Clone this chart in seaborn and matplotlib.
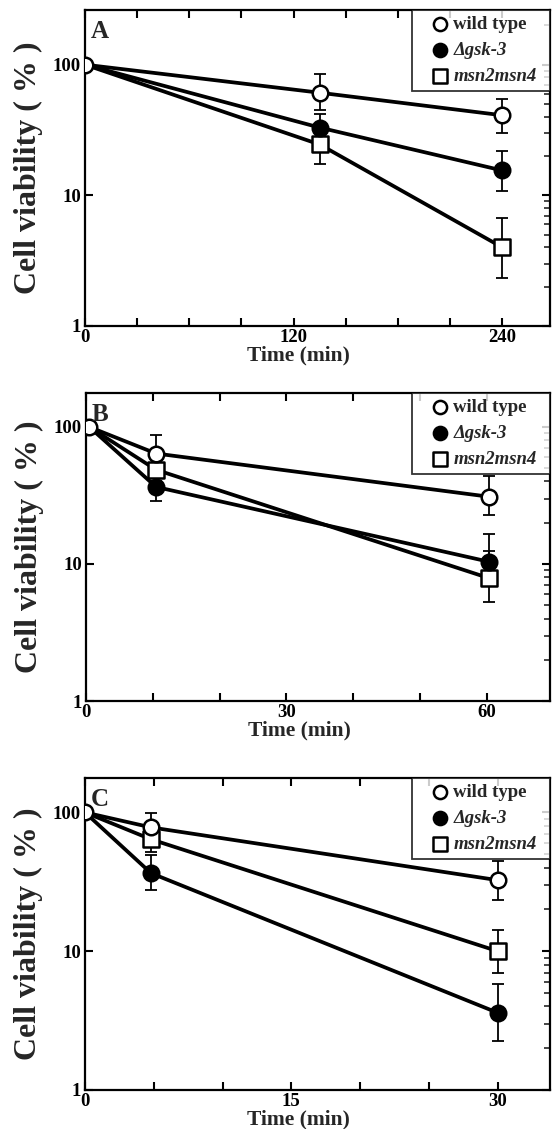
import matplotlib
matplotlib.use("Agg")
import matplotlib.pyplot as plt
import numpy as np
import pandas as pd
import seaborn as sns
from matplotlib.ticker import FixedLocator, NullFormatter

# ---------------- data ----------------
strains = ["wild type", "Δgsk-3", "msn2msn4"]

# Panel A
time_a = [0, 135, 240]
wt_a = [100, 61, 41]
wt_a_lo = [100, 45, 30]
wt_a_hi = [100, 85, 55]
gsk_a = [100, 33, 15.5]
gsk_a_lo = [100, 25, 10.8]
gsk_a_hi = [100, 42, 21.7]
msn_a = [100, 24.5, 4.0]
msn_a_lo = [100, 17.5, 2.35]
msn_a_hi = [100, 33, 6.7]
xticks_a = [0, 30, 60, 90, 120, 150, 180, 210, 240]
xticklabels_a = ["0", "", "", "", "120", "", "", "", "240"]

# Panel B
time_b = [0.5, 10.5, 60.3]
wt_b = [100, 64, 31]
wt_b_lo = [100, 50, 22.8]
wt_b_hi = [100, 87, 44]
gsk_b = [100, 36.5, 10.4]
gsk_b_lo = [100, 29, 8.5]
gsk_b_hi = [100, 45, 16.6]
msn_b = [100, 48.7, 7.9]
msn_b_lo = [100, 40, 5.25]
msn_b_hi = [100, 58, 12.5]
xticks_b = [0, 10, 20, 30, 40, 50, 60]
xticklabels_b = ["0", "", "", "30", "", "", "60"]

# Panel C
time_c = [0, 4.8, 30]
wt_c = [100, 78, 32.5]
wt_c_lo = [100, 65, 23.5]
wt_c_hi = [100, 99, 44.5]
gsk_c = [100, 36.5, 3.6]
gsk_c_lo = [100, 27.5, 2.27]
gsk_c_hi = [100, 49, 5.8]
msn_c = [100, 64, 10.0]
msn_c_lo = [100, 52, 7.0]
msn_c_hi = [100, 78, 14.2]
xticks_c = [0, 5, 10, 15, 20, 25, 30]
xticklabels_c = ["0", "", "", "15", "", "", "30"]

yticks = [1, 10, 100]
yticklabels = ["1", "10", "100"]
panel_letters = ["A", "B", "C"]

# ---------------- style ----------------
sns.set_theme(style="ticks")
plt.rcParams["font.family"] = ["Liberation Serif", "DejaVu Serif"]
plt.rcParams["font.weight"] = "bold"
plt.rcParams["axes.labelweight"] = "bold"

fig = plt.figure(figsize=(5.53, 11.29), dpi=100)
W, H = 553, 1129


def rect(l, t, r, b):
    return [l / W, 1 - b / H, (r - l) / W, (b - t) / H]


panels = [
    dict(rect=rect(85, 10, 550, 326), t=time_a,
         series=[(wt_a, wt_a_lo, wt_a_hi), (gsk_a, gsk_a_lo, gsk_a_hi), (msn_a, msn_a_lo, msn_a_hi)],
         xlim=(0, 267.5), ylim=(1, 262), xticks=xticks_a, xtl=xticklabels_a, xl_y=-0.062),
    dict(rect=rect(86, 393, 550, 701), t=time_b,
         series=[(wt_b, wt_b_lo, wt_b_hi), (gsk_b, gsk_b_lo, gsk_b_hi), (msn_b, msn_b_lo, msn_b_hi)],
         xlim=(0, 69.5), ylim=(1, 177), xticks=xticks_b, xtl=xticklabels_b, xl_y=-0.062),
    dict(rect=rect(85, 778, 550, 1090), t=time_c,
         series=[(wt_c, wt_c_lo, wt_c_hi), (gsk_c, gsk_c_lo, gsk_c_hi), (msn_c, msn_c_lo, msn_c_hi)],
         xlim=(0, 33.8), ylim=(1, 177), xticks=xticks_c, xtl=xticklabels_c, xl_y=-0.061),
]

marker_style = {
    "wild type": dict(marker="o", facecolor="white"),
    "Δgsk-3": dict(marker="o", facecolor="black"),
    "msn2msn4": dict(marker="s", facecolor="white"),
}
draw_order = ["msn2msn4", "Δgsk-3", "wild type"]

for p, letter in zip(panels, panel_letters):
    ax = fig.add_axes(p["rect"])
    rows = []
    for name, (v, lo, hi) in zip(strains, p["series"]):
        for t, vv, l, h in zip(p["t"], v, lo, hi):
            rows.append(dict(time=t, viability=vv, lo=l, hi=h, strain=name))
    df = pd.DataFrame(rows)
    t0 = p["t"][0]

    # lines
    for name in draw_order:
        d = df[df.strain == name]
        sns.lineplot(data=d, x="time", y="viability", color="black", lw=2.7,
                     ax=ax, zorder=2, legend=False, estimator=None, sort=False)
    # error bars
    for name in draw_order:
        d = df[(df.strain == name) & (df.time > t0)]
        ax.errorbar(d.time, d.viability,
                    yerr=[d.viability - d.lo, d.hi - d.viability],
                    fmt="none", ecolor="black", elinewidth=1.3, capsize=4,
                    capthick=1.3, zorder=2.5)
    # markers (the shared starting point is covered by the wild-type circle)
    for name in draw_order:
        d = df[df.strain == name]
        if name != "wild type":
            d = d[d.time > t0]
        ms = marker_style[name]
        sns.scatterplot(data=d, x="time", y="viability", marker=ms["marker"],
                        s=125, color=ms["facecolor"], edgecolor="black",
                        linewidth=1.8, ax=ax, zorder=3, label=name)

    ax.set_yscale("log")
    ax.set_xlim(*p["xlim"])
    ax.set_ylim(*p["ylim"])
    ax.set_xticks(p["xticks"])
    ax.set_xticklabels(p["xtl"])
    ax.set_yticks(yticks)
    ax.set_yticklabels(yticklabels)
    ax.yaxis.set_minor_locator(FixedLocator(
        [k * 10 ** e for e in range(0, 3) for k in range(2, 10) if k * 10 ** e < p["ylim"][1]]))
    ax.yaxis.set_minor_formatter(NullFormatter())
    for s in ax.spines.values():
        s.set_linewidth(1.6)
        s.set_color("black")
        s.set_visible(True)
    ax.tick_params(axis="both", which="major", direction="in", length=6, width=1.5,
                   top=True, right=True, labelsize=13.5, pad=2.5, colors="black")
    ax.tick_params(axis="y", which="minor", direction="in", length=4.5, width=1.2,
                   left=False, right=True)
    ax.tick_params(axis="y", which="major", pad=3)
    for lab in ax.get_xticklabels() + ax.get_yticklabels():
        lab.set_fontweight("bold")

    ax.set_xlabel("Time (min)", fontsize=15.5, fontweight="bold", labelpad=0)
    ax.xaxis.set_label_coords(0.46, p["xl_y"])
    ax.set_ylabel("Cell viability ( % )", fontsize=23, fontweight="bold")
    ax.yaxis.set_label_coords(-0.09, 0.5)

    ax.text(0.012, 0.968, letter, transform=ax.transAxes, ha="left", va="top",
            fontsize=18, fontweight="bold", zorder=5)

    handles, labels = ax.get_legend_handles_labels()
    hmap = dict(zip(labels, handles))
    leg = ax.legend([hmap[s] for s in strains], strains,
                    loc="upper left", bbox_to_anchor=(0.703, 0.0, 0.297, 1.0),
                    mode="expand", borderaxespad=0, frameon=True, fancybox=False,
                    fontsize=13.5, handletextpad=-0.5, labelspacing=0.48,
                    borderpad=0.3, markerscale=0.85, handlelength=2.4)
    leg.get_frame().set_edgecolor("black")
    leg.get_frame().set_linewidth(1.3)
    for txt in leg.get_texts():
        txt.set_fontweight("bold")
        if txt.get_text() != "wild type":
            txt.set_fontstyle("italic")
    ax.grid(False)

fig.savefig("out.png", dpi=100)
